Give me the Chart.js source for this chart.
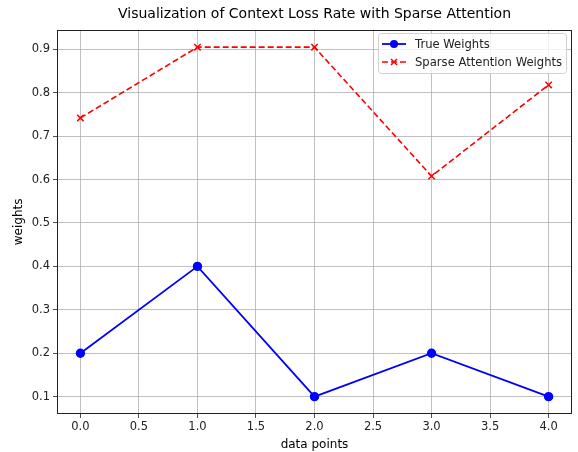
<!DOCTYPE html>
<html>
<head>
<meta charset="utf-8">
<script src="https://cdn.jsdelivr.net/npm/chart.js@4.4.1/dist/chart.umd.min.js"></script>
<style>
  html, body { margin: 0; padding: 0; background: #fff; }
  #wrap { width: 578px; height: 452px; }
</style>
</head>
<body>
<div id="wrap"><canvas id="lossChart" width="578" height="452"></canvas></div>
<script>
// values
const xValues = [0, 1, 2, 3, 4];
const trueWeights = [0.2, 0.4, 0.1, 0.2, 0.1];
const sparseWeights = [0.742, 0.905, 0.905, 0.608, 0.818];
const xTicks = [0, 0.5, 1, 1.5, 2, 2.5, 3, 3.5, 4];
const yTicks = [0.1, 0.2, 0.3, 0.4, 0.5, 0.6, 0.7, 0.8, 0.9];

const FONT = 'DejaVu Sans';
const pts = (ys) => xValues.map((x, i) => ({ x: x, y: ys[i] }));

// matplotlib-style frame + legend inside the axes
const framePlugin = {
    id: 'frame',
    afterDraw(chart) {
        const ctx = chart.ctx;
        const a = chart.chartArea;
        ctx.save();
        ctx.strokeStyle = '#222';
        ctx.lineWidth = 1;
        ctx.strokeRect(Math.round(a.left) + 0.5, Math.round(a.top) + 0.5,
            Math.round(a.right - a.left) - 1, Math.round(a.bottom - a.top) - 1);

        // legend box
        const bx = 378, by = 33, bw = 188, bh = 40;
        ctx.fillStyle = 'rgba(255,255,255,0.8)';
        ctx.strokeStyle = '#d0d0d0';
        ctx.beginPath();
        ctx.roundRect(bx + 0.5, by + 0.5, bw, bh, 3);
        ctx.fill();
        ctx.stroke();

        chart.data.datasets.forEach((ds, i) => {
            const cy = by + 11 + i * 18;
            ctx.strokeStyle = ds.borderColor;
            ctx.lineWidth = ds.borderWidth;
            ctx.setLineDash(ds.borderDash || []);
            ctx.beginPath();
            ctx.moveTo(382, cy);
            ctx.lineTo(406, cy);
            ctx.stroke();
            ctx.setLineDash([]);
            if (ds.pointStyle === 'circle') {
                ctx.fillStyle = ds.pointBackgroundColor;
                ctx.beginPath();
                ctx.arc(394, cy, 4, 0, Math.PI * 2);
                ctx.fill();
            } else {
                ctx.lineWidth = 1.5;
                ctx.beginPath();
                ctx.moveTo(391, cy - 3); ctx.lineTo(397, cy + 3);
                ctx.moveTo(397, cy - 3); ctx.lineTo(391, cy + 3);
                ctx.stroke();
            }
            ctx.fillStyle = '#222';
            ctx.font = '11.6px ' + FONT;
            ctx.textBaseline = 'middle';
            ctx.textAlign = 'left';
            ctx.fillText(ds.label, 415, cy + 1);
        });
        ctx.restore();
    }
};

new Chart(document.getElementById('lossChart').getContext('2d'), {
    type: 'scatter',
    data: {
        datasets: [
            {
                label: 'True Weights',
                data: pts(trueWeights),
                showLine: true,
                borderColor: '#0000ff',
                backgroundColor: '#0000ff',
                pointBackgroundColor: '#0000ff',
                pointBorderColor: '#0000ff',
                borderWidth: 1.8,
                pointStyle: 'circle',
                pointRadius: 3.8,
                pointHoverRadius: 3.8
            },
            {
                label: 'Sparse Attention Weights',
                data: pts(sparseWeights),
                showLine: true,
                borderColor: '#ff0000',
                backgroundColor: '#ff0000',
                pointBorderColor: '#ff0000',
                borderWidth: 1.6,
                borderDash: [6, 3],
                pointStyle: 'crossRot',
                pointRadius: 4.5,
                pointBorderWidth: 1.5,
                pointHoverRadius: 4.5
            }
        ]
    },
    options: {
        responsive: false,
        animation: false,
        layout: { padding: { left: 0, right: 6, top: 0, bottom: 0 } },
        plugins: {
            legend: { display: false },
            tooltip: { enabled: false },
            title: {
                display: true,
                fullSize: false,
                text: 'Visualization of Context Loss Rate with Sparse Attention',
                color: '#000',
                font: { family: FONT, size: 14, weight: 'normal' },
                padding: { top: 6, bottom: 7 }
            }
        },
        scales: {
            x: {
                type: 'linear',
                min: -0.2,
                max: 4.2,
                afterBuildTicks: s => { s.ticks = xTicks.map(v => ({ value: v })); },
                afterFit: s => { s.height = 38; },
                border: { display: false },
                grid: { color: '#b0b0b0', lineWidth: 0.8, tickColor: '#222', tickLength: 4, drawTicks: true },
                ticks: {
                    color: '#222',
                    padding: 2,
                    maxRotation: 0,
                    font: { family: FONT, size: 11.5 },
                    callback: v => v.toFixed(1)
                },
                title: {
                    display: true,
                    text: 'data points',
                    color: '#000',
                    font: { family: FONT, size: 12 },
                    padding: { top: 1, bottom: 0 }
                }
            },
            y: {
                type: 'linear',
                min: 0.06,
                max: 0.945,
                afterBuildTicks: s => { s.ticks = yTicks.map(v => ({ value: v })); },
                afterFit: s => { s.width = 57; },
                border: { display: false },
                grid: { color: '#b0b0b0', lineWidth: 0.8, tickColor: '#222', tickLength: 4, drawTicks: true },
                ticks: {
                    color: '#222',
                    padding: 3,
                    font: { family: FONT, size: 11.5 },
                    callback: v => v.toFixed(1)
                },
                title: {
                    display: true,
                    text: 'weights',
                    color: '#000',
                    font: { family: FONT, size: 12 },
                    padding: { top: 12, bottom: 2 }
                }
            }
        }
    },
    plugins: [framePlugin]
});
</script>
</body>
</html>
